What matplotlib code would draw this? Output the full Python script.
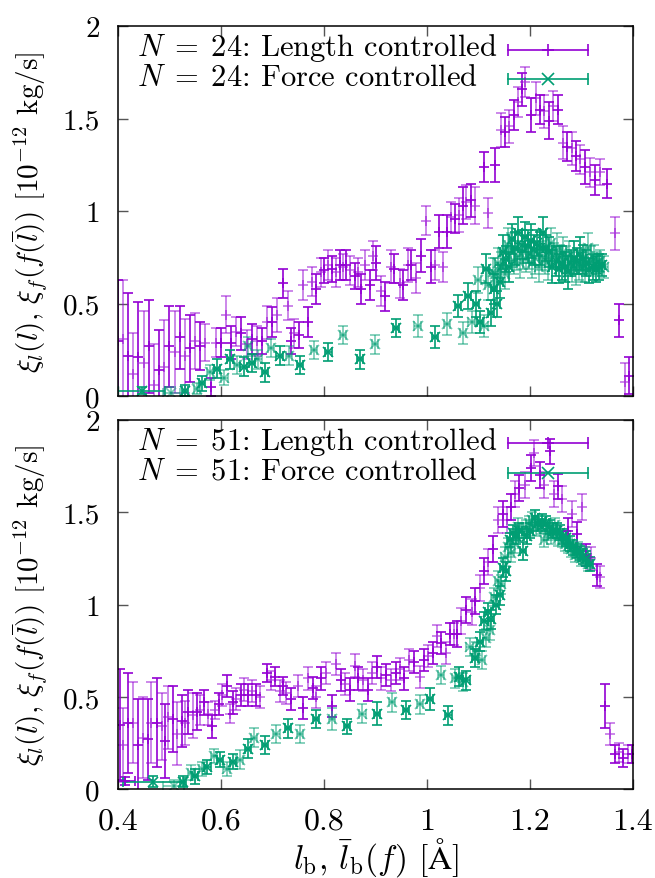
import matplotlib
matplotlib.use('Agg')
import matplotlib.pyplot as plt
import numpy as np
from matplotlib.ticker import FuncFormatter, MultipleLocator

plt.rcParams.update({
    'font.family': 'serif',
    'font.serif': ['cmr10'],
    'mathtext.fontset': 'cm',
    'axes.formatter.use_mathtext': True,
    'font.size': 22,
})

PURPLE = '#9400d3'
GREEN = '#009e73'

# ---------------- N = 24 : length controlled ----------------
len24_x = [0.400, 0.410, 0.420, 0.430, 0.440, 0.450, 0.460, 0.470, 0.480, 0.490,
           0.500, 0.510, 0.520, 0.530, 0.540, 0.550, 0.560, 0.570, 0.580, 0.590,
           0.600, 0.610, 0.620, 0.630, 0.640, 0.650, 0.660, 0.670, 0.680, 0.690,
           0.700, 0.710, 0.720,
           0.730, 0.736, 0.743, 0.751, 0.760, 0.769, 0.777, 0.785, 0.794, 0.801,
           0.808, 0.815, 0.824, 0.831, 0.837, 0.844, 0.850, 0.860, 0.866, 0.873,
           0.879, 0.889, 0.895, 0.902, 0.912, 0.918, 0.931, 0.937, 0.947, 0.954,
           0.963, 0.970, 0.979, 0.989, 0.999, 1.008, 1.015, 1.024, 1.032, 1.040,
           1.047, 1.054,
           1.062, 1.070, 1.077, 1.085, 1.093, 1.111, 1.118, 1.132, 1.144, 1.152,
           1.160, 1.170, 1.177, 1.184, 1.190, 1.203, 1.212, 1.219, 1.228, 1.238,
           1.245, 1.255, 1.265, 1.273, 1.282, 1.290, 1.298, 1.308, 1.317, 1.327,
           1.337, 1.350, 1.365, 1.374, 1.385, 1.393]
len24_y = [0.30, 0.31, 0.22, 0.12, 0.21, 0.18, 0.27, 0.06, 0.14, 0.16,
           0.27, 0.24, 0.32, 0.22, 0.26, 0.30, 0.27, 0.29, 0.05, 0.29,
           0.29, 0.44, 0.29, 0.35, 0.34, 0.28, 0.31, 0.30, 0.30, 0.40,
           0.40, 0.44, 0.61,
           0.49, 0.30, 0.34, 0.33, 0.60, 0.40, 0.62, 0.58, 0.67, 0.68,
           0.71, 0.69, 0.67, 0.71, 0.70, 0.71, 0.68, 0.65, 0.67, 0.58,
           0.71, 0.60, 0.76, 0.72, 0.57, 0.54, 0.70, 0.69, 0.61, 0.60,
           0.71, 0.71, 0.64, 0.76, 0.95, 0.70, 0.71, 0.89, 0.70, 0.89,
           0.97, 0.96,
           0.98, 1.03, 1.05, 1.06, 1.03, 1.24, 0.99, 1.25, 1.44, 1.43,
           1.46, 1.52, 1.59, 1.66, 1.70, 1.52, 1.61, 1.55, 1.54, 1.49,
           1.57, 1.55, 1.37, 1.35, 1.34, 1.30, 1.28, 1.24, 1.21, 1.17,
           1.21, 1.15, 0.88, 0.41, 0.08, 0.11]
len24_err = [0.33, 0.32, 0.34, 0.22, 0.30, 0.28, 0.25, 0.22, 0.22, 0.25,
             0.22, 0.22, 0.17, 0.20, 0.18, 0.15, 0.13, 0.10, 0.05, 0.08,
             0.08, 0.10, 0.09, 0.08, 0.09, 0.08, 0.08, 0.08, 0.07, 0.09,
             0.08, 0.09, 0.08,
             0.08, 0.07, 0.08, 0.07, 0.08, 0.08, 0.08, 0.08, 0.08, 0.07,
             0.08, 0.07, 0.08, 0.08, 0.07, 0.08, 0.08, 0.07, 0.08, 0.08,
             0.08, 0.08, 0.08, 0.09, 0.08, 0.08, 0.09, 0.08, 0.08, 0.08,
             0.09, 0.08, 0.08, 0.09, 0.08, 0.09, 0.08, 0.09, 0.08, 0.09,
             0.08, 0.08,
             0.09, 0.10, 0.09, 0.09, 0.10, 0.08, 0.08, 0.09, 0.09, 0.08,
             0.09, 0.08, 0.08, 0.09, 0.08, 0.09, 0.09, 0.08, 0.09, 0.10,
             0.08, 0.08, 0.09, 0.08, 0.09, 0.08, 0.08, 0.09, 0.08, 0.08,
             0.07, 0.08, 0.09, 0.09, 0.10, 0.10]

# ---------------- N = 24 : force controlled ----------------
force24_wide_x = [0.446, 0.504]
force24_wide_y = [0.03, 0.02]
force24_wide_err = [0.02, 0.03]
force24_wide_xerr = [0.045, 0.016]

force24_x = [0.530, 0.553, 0.564, 0.579, 0.592, 0.607, 0.618, 0.631, 0.644, 0.652,
             0.660, 0.673, 0.686, 0.698, 0.714, 0.732, 0.753, 0.781, 0.809, 0.837,
             0.870, 0.900, 0.940, 0.982, 1.016, 1.039, 1.061, 1.071, 1.080, 1.087,
             1.096, 1.099, 1.103, 1.112, 1.115, 1.119, 1.125, 1.128,
             1.130, 1.133, 1.136, 1.139, 1.142, 1.145, 1.148, 1.151, 1.154, 1.157,
             1.160, 1.163, 1.166, 1.169, 1.172, 1.175, 1.178, 1.181, 1.184, 1.187,
             1.190, 1.193, 1.196, 1.199, 1.202, 1.205, 1.208, 1.211, 1.214, 1.217,
             1.220, 1.223, 1.226, 1.229, 1.232, 1.235, 1.238, 1.241, 1.244, 1.247,
             1.250, 1.253, 1.256, 1.259, 1.262, 1.265, 1.268, 1.271, 1.274, 1.277,
             1.280, 1.283, 1.286, 1.289, 1.292, 1.295, 1.298, 1.301, 1.304, 1.307,
             1.310, 1.313, 1.316, 1.319, 1.322, 1.325, 1.328, 1.331, 1.334, 1.337,
             1.340, 1.345]
force24_y = [0.03, 0.04, 0.07, 0.13, 0.15, 0.10, 0.20, 0.17, 0.16, 0.27,
             0.18, 0.20, 0.13, 0.26, 0.22, 0.22, 0.17, 0.25, 0.24, 0.33,
             0.20, 0.28, 0.37, 0.38, 0.32, 0.39, 0.49, 0.34, 0.54, 0.40,
             0.50, 0.63, 0.40, 0.38, 0.69, 0.60, 0.45, 0.67,
             0.58, 0.66, 0.50, 0.72, 0.62, 0.70, 0.78, 0.66, 0.74, 0.82,
             0.70, 0.79, 0.85, 0.73, 0.80, 0.76, 0.88, 0.72, 0.82, 0.78,
             0.86, 0.74, 0.81, 0.77, 0.84, 0.72, 0.79, 0.75, 0.83, 0.70,
             0.80, 0.76, 0.88, 0.74, 0.80, 0.72, 0.78, 0.83, 0.70, 0.76,
             0.73, 0.79, 0.69, 0.75, 0.72, 0.78, 0.70, 0.74, 0.67, 0.76,
             0.72, 0.70, 0.75, 0.68, 0.73, 0.71, 0.77, 0.69, 0.74, 0.70,
             0.72, 0.80, 0.68, 0.73, 0.70, 0.74, 0.69, 0.72, 0.70, 0.73,
             0.71, 0.70]
force24_err = [0.03, 0.03, 0.04, 0.04, 0.05, 0.04, 0.05, 0.05, 0.05, 0.05,
               0.05, 0.05, 0.05, 0.05, 0.05, 0.05, 0.05, 0.05, 0.05, 0.05,
               0.05, 0.05, 0.05, 0.06, 0.06, 0.06, 0.06, 0.06, 0.07, 0.06,
               0.07, 0.07, 0.06, 0.06, 0.08, 0.08, 0.07, 0.08,
               0.08, 0.09, 0.07, 0.08, 0.09, 0.08, 0.09, 0.08, 0.07, 0.09,
               0.08, 0.09, 0.08, 0.07, 0.09, 0.08, 0.09, 0.08, 0.08, 0.09,
               0.08, 0.07, 0.09, 0.08, 0.09, 0.08, 0.08, 0.09, 0.07, 0.08,
               0.09, 0.08, 0.09, 0.08, 0.07, 0.09, 0.08, 0.08, 0.09, 0.07,
               0.08, 0.09, 0.08, 0.07, 0.09, 0.08, 0.08, 0.07, 0.09, 0.08,
               0.07, 0.08, 0.09, 0.08, 0.07, 0.08, 0.09, 0.07, 0.08, 0.08,
               0.07, 0.08, 0.07, 0.08, 0.07, 0.08, 0.07, 0.06, 0.07, 0.06,
               0.06, 0.06]

# ---------------- N = 51 : length controlled ----------------
len51_wide_x = [0.414]
len51_wide_y = [0.045]
len51_wide_err = [0.02]
len51_wide_xerr = [0.02]

len51_x = [0.404, 0.410, 0.420, 0.430, 0.439, 0.449, 0.459, 0.465, 0.475, 0.485,
           0.491, 0.498, 0.507, 0.514, 0.524, 0.530, 0.537, 0.546, 0.553, 0.559,
           0.568, 0.575, 0.582, 0.588, 0.596, 0.603, 0.611, 0.617, 0.624, 0.630,
           0.639, 0.645, 0.653, 0.661, 0.669, 0.676, 0.689, 0.698, 0.705, 0.714,
           0.721,
           0.727, 0.737, 0.750, 0.760, 0.769, 0.779, 0.785, 0.795, 0.805, 0.815,
           0.824, 0.834, 0.841, 0.850, 0.860, 0.866, 0.876, 0.886, 0.893, 0.903,
           0.911, 0.921, 0.931, 0.940, 0.948, 0.956, 0.966, 0.976, 0.986, 0.994,
           1.002, 1.012, 1.020, 1.028, 1.038, 1.045, 1.052,
           1.058, 1.067, 1.077, 1.087, 1.093, 1.103, 1.112, 1.119, 1.129, 1.138,
           1.148, 1.155, 1.164, 1.171, 1.180, 1.190, 1.202, 1.209, 1.220, 1.228,
           1.239, 1.248, 1.255, 1.263, 1.274, 1.283, 1.291, 1.301, 1.310, 1.319,
           1.330, 1.337, 1.347, 1.355, 1.366, 1.373, 1.382, 1.390, 1.399]
len51_y = [0.35, 0.24, 0.36, 0.36, 0.24, 0.28, 0.27, 0.36, 0.36, 0.34,
           0.26, 0.39, 0.38, 0.30, 0.37, 0.36, 0.42, 0.40, 0.42, 0.43,
           0.47, 0.41, 0.34, 0.43, 0.46, 0.51, 0.56, 0.41, 0.47, 0.49,
           0.51, 0.54, 0.51, 0.53, 0.51, 0.50, 0.63, 0.59, 0.61, 0.53,
           0.56,
           0.52, 0.49, 0.56, 0.44, 0.60, 0.55, 0.50, 0.60, 0.63, 0.45,
           0.68, 0.59, 0.57, 0.54, 0.67, 0.60, 0.59, 0.54, 0.63, 0.66,
           0.60, 0.62, 0.59, 0.63, 0.65, 0.60, 0.70, 0.69, 0.61, 0.70,
           0.72, 0.74, 0.83, 0.79, 0.74, 0.84, 0.84,
           0.84, 0.91, 0.97, 0.96, 1.02, 1.09, 1.18, 1.23, 1.30, 1.46,
           1.49, 1.46, 1.53, 1.60, 1.63, 1.65, 1.74, 1.82, 1.70, 1.65,
           1.83, 1.60, 1.64, 1.57, 1.40, 1.49, 1.38, 1.53, 1.27, 1.25,
           1.16, 1.15, 0.45, 0.30, 0.19, 0.20, 0.17, 0.19, 0.19]
len51_err = [0.30, 0.20, 0.27, 0.22, 0.25, 0.22, 0.22, 0.22, 0.24, 0.18,
             0.20, 0.17, 0.18, 0.17, 0.14, 0.12, 0.12, 0.12, 0.10, 0.08,
             0.07, 0.06, 0.06, 0.05, 0.06, 0.06, 0.06, 0.05, 0.06, 0.06,
             0.06, 0.06, 0.06, 0.06, 0.06, 0.06, 0.05, 0.05, 0.05, 0.06,
             0.05,
             0.06, 0.06, 0.06, 0.06, 0.06, 0.06, 0.06, 0.06, 0.06, 0.06,
             0.06, 0.06, 0.06, 0.06, 0.06, 0.06, 0.06, 0.06, 0.06, 0.06,
             0.06, 0.06, 0.06, 0.06, 0.06, 0.06, 0.06, 0.06, 0.06, 0.06,
             0.06, 0.06, 0.06, 0.06, 0.06, 0.06, 0.06,
             0.07, 0.07, 0.07, 0.07, 0.07, 0.07, 0.07, 0.07, 0.07, 0.07,
             0.07, 0.07, 0.07, 0.07, 0.07, 0.07, 0.07, 0.07, 0.07, 0.07,
             0.07, 0.07, 0.07, 0.07, 0.07, 0.07, 0.07, 0.07, 0.06, 0.06,
             0.06, 0.06, 0.12, 0.06, 0.05, 0.05, 0.05, 0.05, 0.05]

# ---------------- N = 51 : force controlled ----------------
force51_wide_x = [0.469, 0.508]
force51_wide_y = [0.04, 0.02]
force51_wide_err = [0.03, 0.03]
force51_wide_xerr = [0.06, 0.02]

force51_x = [0.527, 0.542, 0.550, 0.563, 0.574, 0.586, 0.599, 0.611, 0.624, 0.637,
             0.652, 0.665, 0.686, 0.708, 0.731, 0.753, 0.785, 0.816, 0.845, 0.875,
             0.904, 0.933, 0.960, 0.986, 1.007, 1.028, 1.042, 1.055, 1.062, 1.070,
             1.077, 1.083, 1.093, 1.096, 1.103, 1.108, 1.112, 1.115, 1.119, 1.122,
             1.125, 1.130, 1.135, 1.138, 1.142, 1.145, 1.148, 1.151, 1.154, 1.157,
             1.161, 1.164, 1.168, 1.171, 1.174, 1.177, 1.179, 1.184, 1.187, 1.192,
             1.195, 1.198, 1.201, 1.205, 1.210, 1.213, 1.216, 1.221, 1.224, 1.228,
             1.232, 1.236, 1.239, 1.242, 1.245, 1.249, 1.252, 1.255, 1.258, 1.262,
             1.265, 1.268, 1.271, 1.275, 1.278, 1.281, 1.284, 1.288, 1.291, 1.294,
             1.297, 1.300, 1.304, 1.307, 1.310, 1.314, 1.317]
force51_y = [0.04, 0.09, 0.07, 0.11, 0.12, 0.18, 0.16, 0.11, 0.15, 0.16,
             0.22, 0.28, 0.24, 0.30, 0.33, 0.30, 0.38, 0.38, 0.34, 0.41,
             0.41, 0.47, 0.43, 0.46, 0.49, 0.62, 0.40, 0.60, 0.61, 0.58,
             0.59, 0.77, 0.71, 0.75, 0.80, 0.70, 0.91, 0.82, 0.96, 0.86,
             0.92, 1.04, 1.00, 1.13, 1.05, 1.11, 1.20, 1.26, 1.18, 1.31,
             1.35, 1.28, 1.39, 1.33, 1.37, 1.42, 1.40, 1.40, 1.29, 1.42,
             1.37, 1.44, 1.40, 1.46, 1.47, 1.41, 1.44, 1.42, 1.45, 1.35,
             1.44, 1.39, 1.42, 1.37, 1.40, 1.43, 1.40, 1.36, 1.39, 1.35,
             1.37, 1.33, 1.36, 1.32, 1.33, 1.30, 1.31, 1.27, 1.29, 1.30,
             1.28, 1.25, 1.26, 1.27, 1.25, 1.22, 1.22]
force51_err = [0.03, 0.04, 0.04, 0.04, 0.04, 0.04, 0.04, 0.04, 0.04, 0.05,
               0.05, 0.05, 0.05, 0.05, 0.05, 0.05, 0.05, 0.06, 0.04, 0.05,
               0.06, 0.05, 0.05, 0.05, 0.06, 0.05, 0.05, 0.05, 0.05, 0.05,
               0.05, 0.05, 0.05, 0.05, 0.05, 0.05, 0.05, 0.05, 0.05, 0.05,
               0.05, 0.05, 0.05, 0.05, 0.05, 0.05, 0.05, 0.05, 0.05, 0.05,
               0.04, 0.05, 0.04, 0.05, 0.04, 0.05, 0.04, 0.04, 0.05, 0.04,
               0.04, 0.04, 0.04, 0.04, 0.04, 0.04, 0.04, 0.04, 0.04, 0.04,
               0.04, 0.04, 0.04, 0.04, 0.04, 0.04, 0.04, 0.04, 0.04, 0.04,
               0.04, 0.04, 0.04, 0.04, 0.04, 0.04, 0.04, 0.04, 0.04, 0.04,
               0.04, 0.04, 0.04, 0.04, 0.04, 0.04, 0.04]


def draw(ax, x, y, err, color, marker, xerr=None):
    x, y, err = np.asarray(x), np.asarray(y), np.asarray(err)
    if xerr is not None:
        xerr = np.broadcast_to(np.asarray(xerr, dtype=float), x.shape)
    # every other point is drawn lighter, as in the original
    for start, alpha in ((0, 1.0), (1, 0.55)):
        ax.errorbar(x[start::2], y[start::2], yerr=err[start::2],
                    xerr=None if xerr is None else xerr[start::2],
                    fmt=marker, color=color, alpha=alpha, ms=7, mew=1.2,
                    elinewidth=1.2, capsize=3.5, capthick=1.2)


def key_sample(ax, y, color, marker):
    ax.plot([0.757, 0.913], [y, y], color=color, lw=1.2, transform=ax.transAxes,
            clip_on=False)
    ax.plot([0.757, 0.913], [y, y], ls='none', marker='|', ms=8, mew=1.2,
            color=color, transform=ax.transAxes, clip_on=False)
    ax.plot([0.835], [y], ls='none', marker=marker, ms=8, mew=1.2, color=color,
            transform=ax.transAxes, clip_on=False)


fig = plt.figure(figsize=(6.55, 8.79), dpi=100)
ax1 = fig.add_axes([0.180, 0.548, 0.786, 0.421])
ax2 = fig.add_axes([0.180, 0.101, 0.786, 0.420])

draw(ax1, len24_x, len24_y, len24_err, PURPLE, '+')
draw(ax1, force24_wide_x, force24_wide_y, force24_wide_err, GREEN, 'x', force24_wide_xerr)
draw(ax1, force24_x, force24_y, force24_err, GREEN, 'x', 0.006)

draw(ax2, len51_wide_x, len51_wide_y, len51_wide_err, PURPLE, '+', len51_wide_xerr)
draw(ax2, len51_x, len51_y, len51_err, PURPLE, '+')
draw(ax2, force51_wide_x, force51_wide_y, force51_wide_err, GREEN, 'x', force51_wide_xerr)
draw(ax2, force51_x, force51_y, force51_err, GREEN, 'x', 0.006)

fmt = FuncFormatter(lambda v, p: '%g' % round(v, 3))
for ax, n in ((ax1, 24), (ax2, 51)):
    ax.set_xlim(0.4, 1.4)
    ax.set_ylim(0, 2)
    ax.xaxis.set_major_locator(MultipleLocator(0.2))
    ax.yaxis.set_major_locator(MultipleLocator(0.5))
    ax.xaxis.set_major_formatter(fmt)
    ax.yaxis.set_major_formatter(fmt)
    ax.tick_params(direction='in', top=True, right=True, length=7, width=1,
                   color='#555555')
    ax.tick_params(axis='y', pad=13, labelsize=21)
    ax.tick_params(axis='x', pad=13, labelsize=23)
    for s in ax.spines.values():
        s.set_linewidth(1.1)
    ax.text(0.037, 0.943, r'$N\;=\;%d$: Length controlled' % n,
            transform=ax.transAxes, va='center', ha='left')
    ax.text(0.037, 0.862, r'$N\;=\;%d$: Force controlled' % n,
            transform=ax.transAxes, va='center', ha='left')
    key_sample(ax, 0.937, PURPLE, '+')
    key_sample(ax, 0.857, GREEN, 'x')

ax1.tick_params(labelbottom=False)

ylab = r'$\xi_l(l)$, $\xi_f(f(\bar{l}))$ [$10^{-12}$ kg/s]'
fig.text(0.046, 0.759, ylab, rotation=90, ha='center', va='center', fontsize=21)
fig.text(0.046, 0.311, ylab, rotation=90, ha='center', va='center', fontsize=21)
fig.text(0.574, 0.024, r'$l_{\rm b}$, $\bar{l}_{\rm b}(f)$ [$\mathrm{\AA}$]',
         ha='center', va='center', fontsize=24)

plt.savefig('out.png', dpi=100)
